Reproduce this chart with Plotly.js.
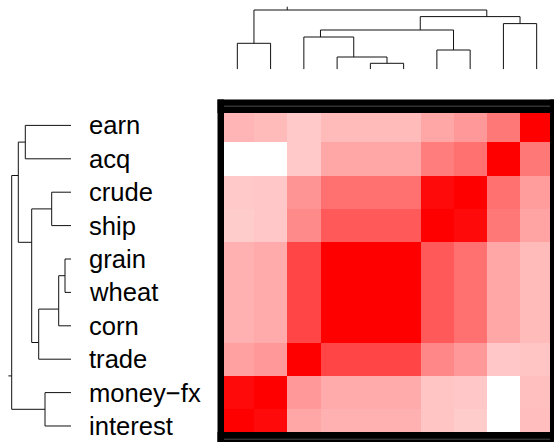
<!DOCTYPE html>
<html>
<head>
<meta charset="utf-8">
<script src="https://cdn.plot.ly/plotly-3.0.1.min.js"></script>
<style>
  html, body { margin: 0; padding: 0; background: #ffffff; }
  #chart { width: 554px; height: 442px; }
</style>
</head>
<body>
<div id="chart"></div>
<script>
// Topics in dendrogram leaf order (left to right along the columns)
const leafOrder = ['interest', 'money\u2212fx', 'trade', 'corn', 'wheat', 'grain', 'ship', 'crude', 'acq', 'earn'];
// Rows run the other way: first leaf at the bottom
const rowLabels = leafOrder.slice().reverse();

// Similarity of each row topic to the column topics (columns in leafOrder)
const earn     = [0.29, 0.27, 0.21, 0.27, 0.27, 0.27, 0.35, 0.40, 0.53, 1.00];
const acq      = [0.00, 0.00, 0.21, 0.35, 0.35, 0.35, 0.51, 0.56, 1.00, 0.53];
const crude    = [0.21, 0.22, 0.42, 0.56, 0.56, 0.56, 0.96, 1.00, 0.56, 0.39];
const ship     = [0.20, 0.22, 0.46, 0.65, 0.65, 0.65, 1.00, 0.96, 0.53, 0.36];
const grain    = [0.31, 0.33, 0.73, 1.00, 1.00, 1.00, 0.65, 0.56, 0.35, 0.27];
const wheat    = [0.31, 0.33, 0.73, 1.00, 1.00, 1.00, 0.65, 0.56, 0.35, 0.27];
const corn     = [0.31, 0.33, 0.73, 1.00, 1.00, 1.00, 0.65, 0.56, 0.35, 0.27];
const trade    = [0.37, 0.40, 1.00, 0.73, 0.73, 0.73, 0.47, 0.40, 0.22, 0.23];
const moneyFx  = [0.96, 1.00, 0.40, 0.33, 0.33, 0.33, 0.23, 0.22, 0.00, 0.25];
const interest = [1.00, 0.96, 0.35, 0.31, 0.31, 0.31, 0.23, 0.20, 0.00, 0.26];

// Hierarchical clustering: negative = leaf (1-based in leafOrder), positive = earlier merge
const mergeLeft   = [-5, -4, -7, -1, -3, 5, -9, 6, 4];
const mergeRight  = [-6,  1, -8, -2,  2, 3, -10, 7, 8];
const mergeHeight = [6.0, 12.3, 19.3, 26.0, 32.3, 39.3, 45.7, 52.7, 59.3];
const rootStem = 3.3;

// ---------- dendrogram geometry ----------
function buildTree() {
  const nodes = [];
  function info(ref) {
    if (ref < 0) { const i = -ref - 1; return { pos: i, h: 0, first: i, last: i }; }
    return nodes[ref - 1];
  }
  for (let k = 0; k < mergeHeight.length; k++) {
    const L = info(mergeLeft[k]), R = info(mergeRight[k]);
    nodes.push({
      pos: (L.last + R.first) / 2,
      h: mergeHeight[k],
      first: L.first, last: R.last,
      L: L, R: R
    });
  }
  // segments as [pos, height] polylines
  const segs = [];
  nodes.forEach(n => {
    segs.push([[n.L.pos, n.L.h], [n.L.pos, n.h], [n.R.pos, n.h], [n.R.pos, n.R.h]]);
  });
  const root = nodes[nodes.length - 1];
  segs.push([[root.pos, root.h], [root.pos, root.h + rootStem]]);
  return segs;
}
const segs = buildTree();

const colX = [], colY = [], rowX = [], rowY = [];
segs.forEach(s => {
  s.forEach(p => {
    colX.push(p[0]); colY.push(p[1]);
    rowX.push(p[1]); rowY.push(leafOrder.length - 1 - p[0]);
  });
  colX.push(null); colY.push(null); rowX.push(null); rowY.push(null);
});

const z = [earn, acq, crude, ship, grain, wheat, corn, trade, moneyFx, interest];
const idx = leafOrder.map((_, i) => i);

const W = 554, H = 442;
const px = v => v / W;
const py = v => 1 - v / H;

const lineStyle = { color: '#111111', width: 1 };

const traces = [
  {
    type: 'heatmap',
    z: z, x: idx, y: idx,
    xaxis: 'x', yaxis: 'y',
    colorscale: [[0, 'rgb(255,255,255)'], [1, 'rgb(255,0,0)']],
    zmin: 0, zmax: 1,
    showscale: false,
    hoverinfo: 'skip'
  },
  {
    type: 'scatter', mode: 'lines',
    x: colX, y: colY, xaxis: 'x', yaxis: 'y2',
    line: lineStyle, hoverinfo: 'skip', connectgaps: false
  },
  {
    type: 'scatter', mode: 'lines',
    x: rowX, y: rowY, xaxis: 'x2', yaxis: 'y',
    line: lineStyle, hoverinfo: 'skip', connectgaps: false
  }
];

const hidden = { visible: false, showgrid: false, zeroline: false, fixedrange: true };

const labelFont = { family: 'Liberation Sans, Arial, Helvetica, sans-serif', size: 25.6, color: '#000000' };
const annotations = rowLabels.map((lab, i) => ({
  text: lab, x: px(86.5), xref: 'paper', xanchor: 'left',
  y: i, yref: 'y', yanchor: 'middle',
  showarrow: false, font: labelFont
}));

// Heavy black frame round the heat map
const black = { type: 'rect', xref: 'paper', yref: 'paper', fillcolor: '#000000', line: { width: 0 }, layer: 'above' };
const shapes = [
  Object.assign({}, black, { x0: px(217.5), x1: px(554), y0: py(113), y1: py(99.5) }),
  Object.assign({}, black, { x0: px(217.5), x1: px(554), y0: py(442), y1: py(432) }),
  Object.assign({}, black, { x0: px(217.5), x1: px(224), y0: py(442), y1: py(99.5) }),
  Object.assign({}, black, { x0: px(550), x1: px(554), y0: py(442), y1: py(99.5) }),
  { type: 'line', xref: 'paper', yref: 'paper', x0: px(224), x1: px(550), y0: py(106.2), y1: py(106.2), line: { color: '#4a4a4a', width: 1 }, layer: 'above' },
  { type: 'line', xref: 'paper', yref: 'paper', x0: px(224), x1: px(550), y0: py(439.2), y1: py(439.2), line: { color: '#4a4a4a', width: 1 }, layer: 'above' }
];

const layout = {
  width: W, height: H,
  margin: { l: 0, r: 0, t: 0, b: 0, pad: 0 },
  paper_bgcolor: '#ffffff', plot_bgcolor: 'rgba(0,0,0,0)',
  showlegend: false,
  xaxis:  Object.assign({}, hidden, { domain: [px(220.7), px(553.3)], range: [-0.5, 9.5], anchor: 'y' }),
  yaxis:  Object.assign({}, hidden, { domain: [0, py(108.7)], range: [9.479, -0.5], anchor: 'x' }),
  xaxis2: Object.assign({}, hidden, { domain: [0, px(71)], range: [71, 0], anchor: 'y' }),
  yaxis2: Object.assign({}, hidden, { domain: [py(69.3), 1], range: [0, 69.3], anchor: 'x' }),
  annotations: annotations,
  shapes: shapes
};

Plotly.newPlot('chart', traces, layout, { staticPlot: true, displayModeBar: false });
</script>
</body>
</html>
